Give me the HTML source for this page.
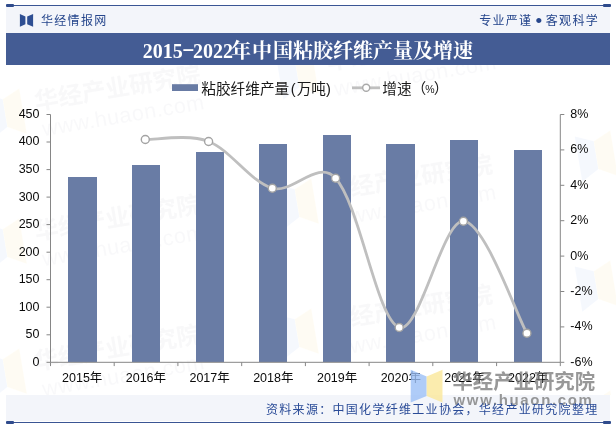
<!DOCTYPE html>
<html lang="zh-CN"><head><meta charset="utf-8"><title>2015-2022年中国粘胶纤维产量及增速</title>
<style>
html,body{margin:0;padding:0;background:#fff;}
body{width:616px;height:426px;position:relative;overflow:hidden;font-family:"Liberation Sans","Noto Sans CJK SC",sans-serif;}
.abs{position:absolute;}
.hdr{left:6px;top:6px;width:603.8px;height:27px;background:#f3f5fa;}
.topline{left:6px;top:4.9px;width:604px;height:1.2px;background:#3a5594;}
.cap{height:2.8px;width:7.8px;border-radius:1px;background:#2f4b8c;}
.title{left:6px;top:33px;width:603.8px;height:32px;background:#445c94;color:#fff;text-align:center;
 font-family:"Liberation Serif","Noto Serif CJK SC",serif;font-weight:bold;font-size:20px;line-height:32px;white-space:nowrap;}
.brand{left:41px;top:12.8px;font-size:12px;letter-spacing:1.3px;color:#26468c;line-height:17px;white-space:nowrap;}
.slogan{right:17px;top:12.8px;font-size:12px;letter-spacing:1.3px;color:#26468c;line-height:17px;white-space:nowrap;}
.ftr{left:6px;top:395px;width:603.8px;height:25.7px;background:#f3f5fa;}
.src{right:17.5px;top:401.8px;font-size:12px;letter-spacing:1.3px;color:#2a4b97;line-height:17px;white-space:nowrap;}
.botline{left:6px;top:421.8px;width:604px;height:1.2px;background:#3a5594;}
svg{position:absolute;left:0;top:0;}
.dot{font-size:19px;line-height:0;position:relative;top:2.5px;letter-spacing:0;margin:0 -1px 0 -1.5px;}
.dash{display:inline-block;transform:scaleX(1.9);margin:0 1.8px;position:relative;top:-3px;}
.tt{position:relative;top:2px;}
</style></head><body>
<div class="abs hdr"></div>
<div class="abs topline"></div>
<div class="abs cap" style="left:6.2px;top:4px"></div>
<div class="abs cap" style="left:603.3px;top:4px"></div>
<div class="abs ftr"></div>
<svg width="616" height="426" viewBox="0 0 616 426">
<polygon points="19.9,14.1 25.4,16.5 25.4,24.2 19.9,26.7" fill="#2f4f93"/>
<polygon points="27.2,16.5 33.1,14.1 33.1,26.7 27.2,24.2" fill="#2f4f93"/>
<defs><clipPath id="wc"><rect x="0" y="65" width="616" height="330"/></clipPath></defs><g clip-path="url(#wc)">
<g transform="translate(36 -20) rotate(-9.5)" opacity="0.27"><polygon points="-49,-24 -31,-16 -31,12 -49,22" fill="#dbe6fb"/><polygon points="-31,-16 -13,-24 -13,22 -31,12" fill="#fdf4d6"/><text x="0" y="0" font-size="24" font-weight="bold" fill="#e6e6ea" font-family="'Liberation Sans','Noto Sans CJK SC',sans-serif">华经产业研究院</text><text x="3" y="27" font-size="21.5" fill="#e9e9ed" letter-spacing="0.5" font-family="'Liberation Sans',sans-serif">www.huaon.com</text></g>
<g transform="translate(36 110) rotate(-9.5)" opacity="0.27"><polygon points="-49,-24 -31,-16 -31,12 -49,22" fill="#dbe6fb"/><polygon points="-31,-16 -13,-24 -13,22 -31,12" fill="#fdf4d6"/><text x="0" y="0" font-size="24" font-weight="bold" fill="#e6e6ea" font-family="'Liberation Sans','Noto Sans CJK SC',sans-serif">华经产业研究院</text><text x="3" y="27" font-size="21.5" fill="#e9e9ed" letter-spacing="0.5" font-family="'Liberation Sans',sans-serif">www.huaon.com</text></g>
<g transform="translate(36 240) rotate(-9.5)" opacity="0.27"><polygon points="-49,-24 -31,-16 -31,12 -49,22" fill="#dbe6fb"/><polygon points="-31,-16 -13,-24 -13,22 -31,12" fill="#fdf4d6"/><text x="0" y="0" font-size="24" font-weight="bold" fill="#e6e6ea" font-family="'Liberation Sans','Noto Sans CJK SC',sans-serif">华经产业研究院</text><text x="3" y="27" font-size="21.5" fill="#e9e9ed" letter-spacing="0.5" font-family="'Liberation Sans',sans-serif">www.huaon.com</text></g>
<g transform="translate(36 370) rotate(-9.5)" opacity="0.27"><polygon points="-49,-24 -31,-16 -31,12 -49,22" fill="#dbe6fb"/><polygon points="-31,-16 -13,-24 -13,22 -31,12" fill="#fdf4d6"/><text x="0" y="0" font-size="24" font-weight="bold" fill="#e6e6ea" font-family="'Liberation Sans','Noto Sans CJK SC',sans-serif">华经产业研究院</text><text x="3" y="27" font-size="21.5" fill="#e9e9ed" letter-spacing="0.5" font-family="'Liberation Sans',sans-serif">www.huaon.com</text></g>
<g transform="translate(328 70) rotate(-9.5)" opacity="0.27"><polygon points="-49,-24 -31,-16 -31,12 -49,22" fill="#dbe6fb"/><polygon points="-31,-16 -13,-24 -13,22 -31,12" fill="#fdf4d6"/><text x="0" y="0" font-size="24" font-weight="bold" fill="#e6e6ea" font-family="'Liberation Sans','Noto Sans CJK SC',sans-serif">华经产业研究院</text><text x="3" y="27" font-size="21.5" fill="#e9e9ed" letter-spacing="0.5" font-family="'Liberation Sans',sans-serif">www.huaon.com</text></g>
<g transform="translate(328 200) rotate(-9.5)" opacity="0.27"><polygon points="-49,-24 -31,-16 -31,12 -49,22" fill="#dbe6fb"/><polygon points="-31,-16 -13,-24 -13,22 -31,12" fill="#fdf4d6"/><text x="0" y="0" font-size="24" font-weight="bold" fill="#e6e6ea" font-family="'Liberation Sans','Noto Sans CJK SC',sans-serif">华经产业研究院</text><text x="3" y="27" font-size="21.5" fill="#e9e9ed" letter-spacing="0.5" font-family="'Liberation Sans',sans-serif">www.huaon.com</text></g>
<g transform="translate(328 330) rotate(-9.5)" opacity="0.27"><polygon points="-49,-24 -31,-16 -31,12 -49,22" fill="#dbe6fb"/><polygon points="-31,-16 -13,-24 -13,22 -31,12" fill="#fdf4d6"/><text x="0" y="0" font-size="24" font-weight="bold" fill="#e6e6ea" font-family="'Liberation Sans','Noto Sans CJK SC',sans-serif">华经产业研究院</text><text x="3" y="27" font-size="21.5" fill="#e9e9ed" letter-spacing="0.5" font-family="'Liberation Sans',sans-serif">www.huaon.com</text></g>
<g transform="translate(627 22) rotate(-9.5)" opacity="0.27"><polygon points="-49,-24 -31,-16 -31,12 -49,22" fill="#dbe6fb"/><polygon points="-31,-16 -13,-24 -13,22 -31,12" fill="#fdf4d6"/><text x="0" y="0" font-size="24" font-weight="bold" fill="#e6e6ea" font-family="'Liberation Sans','Noto Sans CJK SC',sans-serif">华经产业研究院</text><text x="3" y="27" font-size="21.5" fill="#e9e9ed" letter-spacing="0.5" font-family="'Liberation Sans',sans-serif">www.huaon.com</text></g>
<g transform="translate(627 152) rotate(-9.5)" opacity="0.27"><polygon points="-49,-24 -31,-16 -31,12 -49,22" fill="#dbe6fb"/><polygon points="-31,-16 -13,-24 -13,22 -31,12" fill="#fdf4d6"/><text x="0" y="0" font-size="24" font-weight="bold" fill="#e6e6ea" font-family="'Liberation Sans','Noto Sans CJK SC',sans-serif">华经产业研究院</text><text x="3" y="27" font-size="21.5" fill="#e9e9ed" letter-spacing="0.5" font-family="'Liberation Sans',sans-serif">www.huaon.com</text></g>
<g transform="translate(627 282) rotate(-9.5)" opacity="0.27"><polygon points="-49,-24 -31,-16 -31,12 -49,22" fill="#dbe6fb"/><polygon points="-31,-16 -13,-24 -13,22 -31,12" fill="#fdf4d6"/><text x="0" y="0" font-size="24" font-weight="bold" fill="#e6e6ea" font-family="'Liberation Sans','Noto Sans CJK SC',sans-serif">华经产业研究院</text><text x="3" y="27" font-size="21.5" fill="#e9e9ed" letter-spacing="0.5" font-family="'Liberation Sans',sans-serif">www.huaon.com</text></g>
<g transform="translate(627 412) rotate(-9.5)" opacity="0.27"><polygon points="-49,-24 -31,-16 -31,12 -49,22" fill="#dbe6fb"/><polygon points="-31,-16 -13,-24 -13,22 -31,12" fill="#fdf4d6"/><text x="0" y="0" font-size="24" font-weight="bold" fill="#e6e6ea" font-family="'Liberation Sans','Noto Sans CJK SC',sans-serif">华经产业研究院</text><text x="3" y="27" font-size="21.5" fill="#e9e9ed" letter-spacing="0.5" font-family="'Liberation Sans',sans-serif">www.huaon.com</text></g>
</g>
<rect x="68" y="177" width="29" height="185" fill="#697ca5"/>
<rect x="132" y="165" width="28" height="197" fill="#697ca5"/>
<rect x="196" y="152" width="28" height="210" fill="#697ca5"/>
<rect x="259" y="144" width="28" height="218" fill="#697ca5"/>
<rect x="323" y="135" width="28" height="227" fill="#697ca5"/>
<rect x="386" y="144" width="29" height="218" fill="#697ca5"/>
<rect x="450" y="140" width="28" height="222" fill="#697ca5"/>
<rect x="514" y="150" width="28" height="212" fill="#697ca5"/>
<path d="M50.5 114.5 V362.3 H560.3 V114.5" fill="none" stroke="#868686" stroke-width="1"/>
<path d="M46.5 362.3H50.5M46.5 334.8H50.5M46.5 307.2H50.5M46.5 279.7H50.5M46.5 252.2H50.5M46.5 224.6H50.5M46.5 197.1H50.5M46.5 169.6H50.5M46.5 142.0H50.5M46.5 114.5H50.5M560.3 362.3H564.3M560.3 326.9H564.3M560.3 291.5H564.3M560.3 256.1H564.3M560.3 220.7H564.3M560.3 185.3H564.3M560.3 149.9H564.3M560.3 114.5H564.3M50.5 362.3V366.1M114.2 362.3V366.1M177.9 362.3V366.1M241.7 362.3V366.1M305.4 362.3V366.1M369.1 362.3V366.1M432.8 362.3V366.1M496.6 362.3V366.1M560.3 362.3V366.1" stroke="#868686" stroke-width="1" fill="none"/>
<g font-size="12.5" fill="#0a0a0a" font-family="'Liberation Sans','Noto Sans CJK SC',sans-serif">
<text x="39.5" y="365.7" text-anchor="end">0</text>
<text x="39.5" y="338.2" text-anchor="end">50</text>
<text x="39.5" y="310.6" text-anchor="end">100</text>
<text x="39.5" y="283.1" text-anchor="end">150</text>
<text x="39.5" y="255.6" text-anchor="end">200</text>
<text x="39.5" y="228.0" text-anchor="end">250</text>
<text x="39.5" y="200.5" text-anchor="end">300</text>
<text x="39.5" y="173.0" text-anchor="end">350</text>
<text x="39.5" y="145.4" text-anchor="end">400</text>
<text x="39.5" y="117.9" text-anchor="end">450</text>
<text x="570.3" y="365.7">-6%</text>
<text x="570.3" y="330.3">-4%</text>
<text x="570.3" y="294.9">-2%</text>
<text x="570.3" y="259.5">0%</text>
<text x="570.3" y="224.1">2%</text>
<text x="570.3" y="188.7">4%</text>
<text x="570.3" y="153.3">6%</text>
<text x="570.3" y="117.9">8%</text>
<text x="82.2" y="382.2" text-anchor="middle">2015年</text>
<text x="145.9" y="382.2" text-anchor="middle">2016年</text>
<text x="209.6" y="382.2" text-anchor="middle">2017年</text>
<text x="273.3" y="382.2" text-anchor="middle">2018年</text>
<text x="337.1" y="382.2" text-anchor="middle">2019年</text>
<text x="400.8" y="382.2" text-anchor="middle">2020年</text>
<text x="464.5" y="382.2" text-anchor="middle">2021年</text>
<text x="528.2" y="382.2" text-anchor="middle">2022年</text>
</g>
<path d="M145.3 139.5 C155.9 139.8 188.2 133.7 208.6 141.5 C230.6 149.9 250.4 181.9 272.3 188.2 C292.7 194.1 317.7 158.5 335.6 178.2 C360.0 204.9 376.9 320.0 399.2 327.5 C419.5 334.3 442.3 220.2 463.4 221.2 C484.8 222.2 516.3 314.6 526.9 333.3" fill="none" stroke="#bfbfbf" stroke-width="2.8" stroke-linecap="round" stroke-linejoin="round"/>
<circle cx="145.3" cy="139.5" r="4" fill="#fff" stroke="#a3a3a3" stroke-width="1.4"/>
<circle cx="208.6" cy="141.5" r="4" fill="#fff" stroke="#a3a3a3" stroke-width="1.4"/>
<circle cx="272.3" cy="188.2" r="4" fill="#fff" stroke="#a3a3a3" stroke-width="1.4"/>
<circle cx="335.6" cy="178.2" r="4" fill="#fff" stroke="#a3a3a3" stroke-width="1.4"/>
<circle cx="399.2" cy="327.5" r="4" fill="#fff" stroke="#a3a3a3" stroke-width="1.4"/>
<circle cx="463.4" cy="221.2" r="4" fill="#fff" stroke="#a3a3a3" stroke-width="1.4"/>
<circle cx="526.9" cy="333.3" r="4" fill="#fff" stroke="#a3a3a3" stroke-width="1.4"/>
<rect x="172" y="84.2" width="26" height="6.8" fill="#687ba4"/>
<path d="M352 87.8H380" stroke="#bfbfbf" stroke-width="2.8"/>
<circle cx="366.2" cy="87.8" r="3.5" fill="#fff" stroke="#a9a9a9" stroke-width="1.4"/>
<g font-size="14.67" fill="#1a1a1a" font-family="'Liberation Sans','Noto Sans CJK SC',sans-serif"><text x="201.3" y="94">粘胶纤维产量<tspan dx="1.5">(</tspan><tspan dx="1">万吨)</tspan></text><text x="382.3" y="94">增速（<tspan font-size="10.5" dx="-1" dy="-1">%</tspan><tspan dx="-1" dy="1">）</tspan></text></g>
<g opacity="0.8"><polygon points="410.7,369.7 426.7,376.6 426.7,396 410.7,402.5" fill="#9cc0f7"/><polygon points="426.7,376.6 442.5,369.7 442.5,402.5 426.7,396" fill="#fbe89a"/></g>
<g fill="#757575" opacity="0.74" font-weight="bold" font-family="'Liberation Sans','Noto Sans CJK SC',sans-serif"><text x="452.4" y="388.8" font-size="20.4">华经产业研究院</text><text x="453.5" y="404.6" font-size="15" letter-spacing="1.65">www.huaon.com</text></g>
</svg>
<div class="abs title"><span class="tt">2015<span class="dash">-</span>2022<span style="margin:0 1px 0 -2px">年</span><span style="margin-right:1px">中</span>国粘胶纤维产量及增速</span></div>
<div class="abs brand">华经情报网</div>
<div class="abs slogan">专业严谨 <span class="dot">•</span> 客观科学</div>
<div class="abs src">资料来源：中国化学纤维工业协会，华经产业研究院整理</div>
<div class="abs botline"></div>
<div class="abs cap" style="left:6.2px;top:421.1px"></div>
<div class="abs cap" style="left:603.3px;top:421.1px"></div>
</body></html>
